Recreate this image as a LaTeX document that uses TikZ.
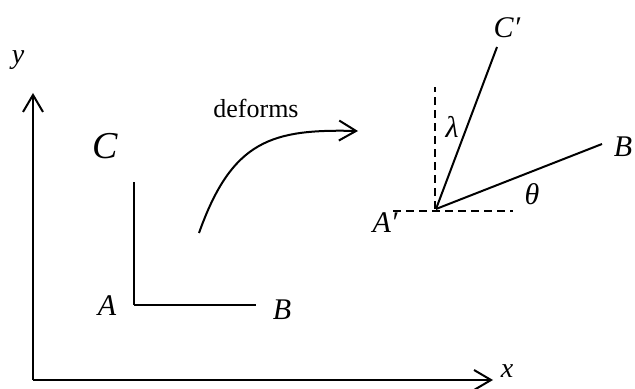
\documentclass[tikz,border=0pt]{standalone}
\usepackage{fontspec}
\setmainfont{Liberation Serif}
\usepackage{tikz}
\usetikzlibrary{arrows.meta}
\tikzset{
  lbl/.style={inner sep=0pt, font=\itshape\fontsize{15}{17}\selectfont},
  biglbl/.style={lbl, font=\itshape\fontsize{19}{22}\selectfont},
  smalllbl/.style={lbl, font=\itshape\fontsize{15}{17}\selectfont},
  tinylbl/.style={lbl, font=\itshape\fontsize{14}{16}\selectfont},
  txt/.style={inner sep=0pt, font=\fontsize{13}{15}\selectfont},
  edge/.style={line width=1pt, draw=black},
  axis/.style={edge, -{Straight Barb[length=8.5pt,width=10pt,line width=1pt]}},
  guide/.style={line width=0.9pt, draw=black, dash pattern=on 4pt off 2.5pt}
}

\begin{document}
\begin{tikzpicture}[x=0.5pt,y=-0.5pt]
  \useasboundingbox (0,0) rectangle (635,389);

  % ---- Axes ----
  \coordinate (origin) at (33,380);
  \coordinate (ytip)   at (33,93);
  \coordinate (xtip)   at (493,380);
  \draw[axis] (origin) -- (ytip);
  \draw[axis] (origin) -- (xtip);
  \node[tinylbl] (ylab) at (18,60) {y};
  \node[tinylbl] (xlab) at (507,371) {x};

  % ---- Undeformed ----
  \coordinate (A) at (134,305);
  \coordinate (C) at (134,182);
  \coordinate (B) at (256,305);
  \draw[edge] (A) -- (C);
  \draw[edge] (A) -- (B);
  \node[biglbl] (clab) at (105,146) {C};
  \node[lbl]    (alab) at (107,306) {A};
  \node[lbl]    (blab) at (282,310) {B};

  % ---- Deformation arrow ----
  \coordinate (dstart) at (199,233);
  \coordinate (dend)   at (358,131);
  \draw[axis] (dstart) .. controls (232,140) and (272,129) .. (dend);
  \node[txt] (deforms) at (256,108) {deforms};

  % ---- Deformed ----
  \coordinate (Ap)    at (436,209);
  \coordinate (Cp)    at (497,47);
  \coordinate (Bp)    at (602,144);
  \coordinate (vtop)  at (435,87);
  \coordinate (hleft) at (393,211);
  \coordinate (hright)at (513,211);
  \draw[guide] (Ap -| vtop) -- (vtop);
  \draw[guide] (hleft) -- (hright);
  \draw[edge] (Ap) -- (Cp);
  \draw[edge] (Ap) -- (Bp);
  \node[smalllbl] (cplab) at (507,28)  {C′};
  \node[lbl]      (bplab) at (623,147) {B};
  \node[smalllbl] (aplab) at (385,223) {A′};
  \node[smalllbl] (lam)   at (452,127) {λ};
  \node[smalllbl] (theta) at (532,194) {θ};
\end{tikzpicture}
\end{document}
